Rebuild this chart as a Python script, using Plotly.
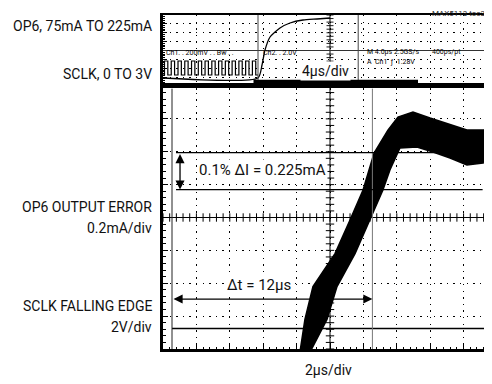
import numpy as np
import plotly.graph_objects as go

# The page body adds an 8 px margin, so the figure is drawn 8 px smaller and
# all reference pixel positions are shifted by OFF.
OFF = 8
W, H = 492 - OFF, 384 - OFF
FONT = "Roboto, Liberation Sans Narrow, DejaVu Sans Condensed, sans-serif"

# ---------------- data ----------------
# Main window, 2 us/div : OP6 output error (noisy band envelope), mA
err_upper_t = [7.66, 7.96, 8.44, 9.76, 10.66, 11.44, 12.10, 12.57, 12.93, 13.53, 14.43, 15.45, 16.65, 17.66, 18.62, 19.16]
err_upper_mA = [-0.82, -0.62, -0.42, -0.22, -0.015, 0.167, 0.392, 0.472, 0.532, 0.611, 0.642, 0.605, 0.563, 0.532, 0.532, 0.551]
err_lower_t = [8.26, 9.28, 9.88, 10.96, 11.86, 12.63, 13.05, 13.65, 14.67, 15.63, 16.65, 17.66, 18.62, 19.16]
err_lower_mA = [-0.82, -0.62, -0.42, -0.22, -0.015, 0.167, 0.289, 0.423, 0.429, 0.398, 0.362, 0.319, 0.331, 0.350]

# Main window : SCLK after its falling edge (V, 2V/div)
sclk_main_t = [0.0, 19.16]
sclk_main_v = [0.0, 0.0]

# Cursors
cursor_t = [0.0, 12.0]          # us  (dt = 12 us)
cursor_mA = [0.395, 0.170]      # mA  (dI = 0.225 mA)

# Overview window, 4 us/div : OP6 current (mA)
op6_t = [-11.38, 0.0, 0.48, 0.84, 1.44, 2.63, 3.83, 5.39, 7.07, 8.62]
op6_mA = [75, 75, 107.5, 145, 177.5, 200, 212.5, 220, 222.5, 225]

# Overview window : SCLK pulses (rising edge times, us) 0..3 V
sclk_rise_t = [-11.2, -10.39, -9.58, -8.77, -7.96, -7.15, -6.34, -5.53, -4.72, -3.91, -3.10, -2.29, -1.48, -0.67]
sclk_high_us = 0.40
sclk_hi_v, sclk_lo_v = 3.0, 0.0

# ---------------- geometry (reference pixels) ----------------
X_LEFT_PX = 163
MAIN_TOP, MAIN_BOT = 86, 349
TOP_TOP = 15


def fx(xp):
    return (xp - OFF) / W


def fy(yp):
    return 1 - (yp - OFF) / H


xdom = [fx(X_LEFT_PX), 1.0]
ydom_main = [fy(MAIN_BOT), fy(MAIN_TOP)]
ydom_top = [fy(MAIN_TOP), fy(TOP_TOP)]

main_x_range = [-0.539, 19.162]
top_x_range = [-11.377, 28.024]
main_center_t = main_x_range[0] + 10.0  # 5 div of 2 us
top_center_t = top_x_range[0] + 20.0    # 5 div of 4 us

DOT = "1.3px,5.3px"

fig = go.Figure()

# error band
band_x = err_upper_t + err_lower_t[::-1]
band_y = err_upper_mA + err_lower_mA[::-1]
fig.add_trace(go.Scatter(x=band_x, y=band_y, mode="lines", fill="toself",
                         fillcolor="black", line=dict(color="black", width=1.5),
                         xaxis="x", yaxis="y", hoverinfo="skip"))

# SCLK in main window
fig.add_trace(go.Scatter(x=sclk_main_t, y=sclk_main_v, mode="lines",
                         line=dict(color="black", width=1.6), xaxis="x", yaxis="y4"))

# OP6 in overview
fig.add_trace(go.Scatter(x=op6_t, y=op6_mA, mode="lines", line=dict(color="black", width=1.3,
                         shape="spline", smoothing=0.6), xaxis="x2", yaxis="y3"))

# SCLK pulses in overview
sx, sy = [top_x_range[0]], [sclk_lo_v]
for r in sclk_rise_t:
    sx += [r, r, r + sclk_high_us, r + sclk_high_us]
    sy += [sclk_lo_v, sclk_hi_v, sclk_hi_v, sclk_lo_v]
sx.append(0.0)
sy.append(sclk_lo_v)
fig.add_trace(go.Scatter(x=sx, y=sy, mode="lines", line=dict(color="black", width=1.2),
                         xaxis="x2", yaxis="y5"))

# crosshair ticks (main)
tx = np.arange(main_x_range[0], main_x_range[1], 0.4)
fig.add_trace(go.Scatter(x=tx, y=np.zeros_like(tx), mode="markers",
                         marker=dict(symbol="line-ns", size=6, line=dict(color="black", width=1)),
                         xaxis="x", yaxis="y"))
ty = np.arange(-0.8, 0.8001, 0.04)
fig.add_trace(go.Scatter(x=np.full_like(ty, main_center_t), y=ty, mode="markers",
                         marker=dict(symbol="line-ew", size=6, line=dict(color="black", width=1)),
                         xaxis="x", yaxis="y"))
# crosshair ticks (overview)
ty2 = np.arange(-4, 4.001, 0.4)
fig.add_trace(go.Scatter(x=np.full_like(ty2, top_center_t), y=ty2, mode="markers",
                         marker=dict(symbol="line-ew", size=5, line=dict(color="black", width=0.9)),
                         xaxis="x2", yaxis="y2"))

shapes = []
# center lines
shapes.append(dict(type="line", xref="x", yref="y domain", x0=main_center_t, x1=main_center_t, y0=0, y1=1,
                   line=dict(color="black", width=1)))
shapes.append(dict(type="line", xref="x domain", yref="y", x0=0, x1=1, y0=0, y1=0,
                   line=dict(color="black", width=1)))
shapes.append(dict(type="line", xref="x2", yref="y2 domain", x0=top_center_t, x1=top_center_t, y0=0, y1=1,
                   line=dict(color="black", width=1)))
shapes.append(dict(type="line", xref="x2 domain", yref="y2", x0=0, x1=1, y0=0, y1=0,
                   line=dict(color="#333", width=1)))
# cursors main
shapes.append(dict(type="line", xref="x", yref="y domain", x0=cursor_t[0], x1=cursor_t[0], y0=0, y1=0.99,
                   line=dict(color="#222", width=1)))
shapes.append(dict(type="line", xref="x", yref="y domain", x0=cursor_t[1], x1=cursor_t[1], y0=0, y1=0.99,
                   line=dict(color="#777", width=1)))
for c in cursor_mA:
    shapes.append(dict(type="line", xref="x", yref="y", x0=0.24, x1=18.6, y0=c, y1=c,
                       line=dict(color="black", width=1.3)))
# cursors in overview
for c in cursor_t:
    shapes.append(dict(type="line", xref="x2", yref="y2 domain", x0=c, x1=c, y0=0.05, y1=1,
                       line=dict(color="#444", width=1)))
# zoom window bar in overview
shapes.append(dict(type="line", xref="x2", yref="y2", x0=main_x_range[0], x1=main_x_range[1],
                   y0=-3.5, y1=-3.5, line=dict(color="black", width=3.5)))

axis_common = dict(showticklabels=False, zeroline=False, color="black")
layout = dict(
    width=W, height=H, margin=dict(l=0, r=0, t=0, b=0),
    paper_bgcolor="white", plot_bgcolor="white", showlegend=False,
    font=dict(family=FONT, color="black"),
    xaxis=dict(domain=xdom, range=main_x_range, anchor="y", tickmode="linear",
               tick0=main_x_range[0], dtick=2, showgrid=True, gridcolor="black",
               griddash=DOT, gridwidth=1.3, ticks="inside", ticklen=4, tickcolor="black",
               showline=True, linecolor="black", linewidth=2.5, mirror="ticks",
               minor=dict(ticks="inside", ticklen=2.5, dtick=0.4, tick0=main_x_range[0],
                          tickcolor="black", showgrid=False), **axis_common),
    yaxis=dict(domain=ydom_main, range=[-0.8, 0.8], anchor="x", tickmode="linear",
               tick0=0, dtick=0.2, showgrid=True, gridcolor="black", griddash=DOT, gridwidth=1.3,
               ticks="inside", ticklen=5, tickcolor="black", showline=True, linecolor="black",
               linewidth=2.5, mirror=False,
               minor=dict(ticks="inside", ticklen=3, dtick=0.04, tick0=0, tickcolor="black",
                          showgrid=False), **axis_common),
    yaxis4=dict(overlaying="y", anchor="x", range=[-1.247, 14.75], visible=False),
    xaxis2=dict(domain=xdom, range=top_x_range, anchor="y2", tickmode="linear",
                tick0=top_x_range[0], dtick=4, showgrid=True, gridcolor="black", griddash=DOT,
                gridwidth=1.3, ticks="", showline=True, linecolor="black", linewidth=1.5,
                mirror=True, **axis_common),
    yaxis2=dict(domain=ydom_top, range=[-4, 4], anchor="x2", tickmode="linear", tick0=0, dtick=1,
                showgrid=True, gridcolor="black", griddash=DOT, gridwidth=1.3, ticks="inside",
                ticklen=4, tickcolor="black", showline=True, linecolor="black", linewidth=2.5,
                minor=dict(ticks="inside", ticklen=2.5, dtick=0.2, tick0=0, tickcolor="black",
                           showgrid=False), **axis_common),
    yaxis3=dict(overlaying="y2", anchor="x2", range=[55, 232.5], visible=False),
    yaxis5=dict(overlaying="y2", anchor="x2", range=[-2.357, 12.857], visible=False),
    shapes=shapes,
)
fig.update_layout(**layout)

TXT = "#111"
ann = []
left_labels = [("OP6, 75mA TO 225mA", 26), ("SCLK, 0 TO 3V", 74),
               ("OP6 OUTPUT ERROR", 207), ("0.2mA/div", 228),
               ("SCLK FALLING EDGE", 306), ("2V/div", 327)]
for txt, yy in left_labels:
    ann.append(dict(text=txt, x=fx(154), y=fy(yy), xref="paper", yref="paper", xanchor="right",
                    yanchor="middle", showarrow=False, font=dict(size=14, family=FONT, color=TXT)))
ann.append(dict(text="MAX5113 toc37", x=fx(491), y=1.0, xref="paper", yref="paper", xanchor="right",
                yanchor="top", showarrow=False, borderpad=0,
                font=dict(size=8, family=FONT, color="#222")))
ann.append(dict(text="4µs/div", x=fx(325), y=fy(71), xref="paper", yref="paper", xanchor="center",
                yanchor="middle", showarrow=False, bgcolor="white", borderpad=1,
                font=dict(size=14, family=FONT, color=TXT)))
ann.append(dict(text="2µs/div", x=fx(328), y=fy(370), xref="paper", yref="paper", xanchor="center",
                yanchor="middle", showarrow=False, font=dict(size=14, family=FONT, color=TXT)))
ann.append(dict(text="0.1% ΔI = 0.225mA", x=fx(262), y=fy(170), xref="paper", yref="paper",
                xanchor="center", yanchor="middle", showarrow=False, bgcolor="white",
                font=dict(size=15, family=FONT, color=TXT)))
ann.append(dict(text="Δt = 12µs", x=fx(259), y=fy(285), xref="paper", yref="paper",
                xanchor="center", yanchor="middle", showarrow=False, bgcolor="white",
                font=dict(size=15, family=FONT, color=TXT)))
# scope readouts
small = [("Ch1. . 200mV . . Bw . .", 164, 53), ("Ch2. . 2.0V", 261, 53),
         ("M 4.0µs 2.5GS/s", 365, 52), ("A  Ch1  ƒ  1.28V", 365, 62),
         ("400ps/pt", 430, 52), ("←", 486, 52)]
for txt, xx, yy in small:
    ann.append(dict(text=txt, x=fx(xx), y=fy(yy), xref="paper", yref="paper", xanchor="left",
                    yanchor="middle", showarrow=False, font=dict(size=7, family=FONT, color="black")))
# arrows
dt_y = -0.496
ann.append(dict(x=cursor_t[1], y=dt_y, ax=cursor_t[0], ay=dt_y, xref="x", yref="y", axref="x",
                ayref="y", text="", showarrow=True, arrowhead=2, arrowside="end+start",
                arrowsize=1.4, arrowwidth=1.3, arrowcolor="black", standoff=0, startstandoff=0))
ann.append(dict(x=0.48, y=cursor_mA[1], ax=0.48, ay=cursor_mA[0], xref="x", yref="y", axref="x",
                ayref="y", text="", showarrow=True, arrowhead=2, arrowside="end+start",
                arrowsize=1.4, arrowwidth=1.3, arrowcolor="black", standoff=0, startstandoff=0))
fig.update_layout(annotations=ann)

fig.write_html("out.html")
